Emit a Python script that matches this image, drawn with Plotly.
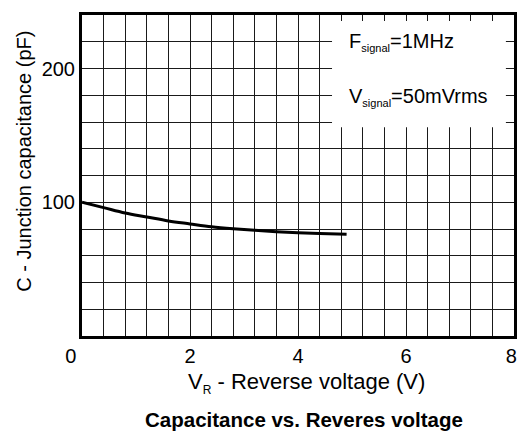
import plotly.graph_objects as go

# Data
voltage_v = [0, 0.4, 0.8, 1.2, 1.6, 2.0, 2.4, 2.8, 3.2, 3.6, 4.0, 4.4, 4.9]
capacitance_pf = [100, 96, 92, 89, 86, 83.8, 81.7, 80.2, 79, 78, 77.2, 76.6, 76]

x_tickvals = [0, 2, 4, 6, 8]
x_ticktext = ["0\u00a0\u00a0\u00a0\u00a0", "2", "4", "6", "8\u00a0"]
y_tickvals = [100, 200]
y_ticktext = ["100", "200"]

FONT = "Liberation Sans, Arial, sans-serif"

fig = go.Figure()
fig.add_trace(go.Scatter(
    x=voltage_v, y=capacitance_pf, mode="lines",
    line=dict(color="black", width=3, shape="spline"),
    showlegend=False, hoverinfo="skip",
))

grid_col = "#1a1a1a"
fig.update_xaxes(
    range=[0, 8], tickvals=x_tickvals, ticktext=x_ticktext,
    showgrid=True, gridcolor=grid_col, gridwidth=1.2,
    minor=dict(dtick=0.4, tick0=0, showgrid=True, gridcolor=grid_col, gridwidth=1.2),
    showline=True, linecolor="black", linewidth=3, mirror=True,
    ticks="", zeroline=False, ticklabeloverflow="allow",
    tickfont=dict(family=FONT, size=20, color="black"),
)
fig.update_yaxes(
    range=[0, 240], tickvals=y_tickvals, ticktext=y_ticktext,
    showgrid=True, gridcolor=grid_col, gridwidth=1.2,
    minor=dict(dtick=20, tick0=0, showgrid=True, gridcolor=grid_col, gridwidth=1.2),
    showline=True, linecolor="black", linewidth=3, mirror=True,
    ticks="", zeroline=False, ticklabelstandoff=0,
    tickfont=dict(family=FONT, size=20, color="black"),
)

# white box for the measurement-condition note
fig.add_shape(type="rect", xref="x", yref="y", x0=4.63, x1=7.85, y0=156, y1=235.5,
              fillcolor="white", line=dict(width=0), layer="above")

sub = "<sub><span style='font-size:11px'>signal</span></sub>"
fig.add_annotation(xref="x", yref="y", x=4.9, y=219.5, xanchor="left", yanchor="middle",
                   text="F" + sub + "=1MHz", showarrow=False,
                   font=dict(family=FONT, size=20, color="black"))
fig.add_annotation(xref="x", yref="y", x=4.9, y=179, xanchor="left", yanchor="middle",
                   text="V" + sub + "=50mVrms", showarrow=False,
                   font=dict(family=FONT, size=20, color="black"))

# axis titles and caption
fig.add_annotation(xref="paper", yref="paper", x=-0.134, y=0.543, textangle=-90,
                   text="C - Junction capacitance (pF)", showarrow=False,
                   xanchor="center", yanchor="middle",
                   font=dict(family=FONT, size=20, color="black"))
fig.add_annotation(xref="paper", yref="paper", x=0.519, y=-0.145,
                   text="V<sub><span style='font-size:12px'>R</span></sub> - Reverse voltage (V)",
                   showarrow=False, xanchor="center", yanchor="middle",
                   font=dict(family=FONT, size=22, color="black"))
fig.add_annotation(xref="paper", yref="paper", x=0.514, y=-0.259,
                   text="<b>Capacitance vs. Reveres voltage</b>",
                   showarrow=False, xanchor="center", yanchor="middle",
                   font=dict(family=FONT, size=20.5, color="black"))

# the page body has an 8px margin; compensate so the plot lands where the reference has it
fig.update_layout(
    width=518, height=424,
    margin=dict(l=74, r=5, t=4, b=96),
    paper_bgcolor="white", plot_bgcolor="white",
    showlegend=False,
)

fig.write_html("out.html")
